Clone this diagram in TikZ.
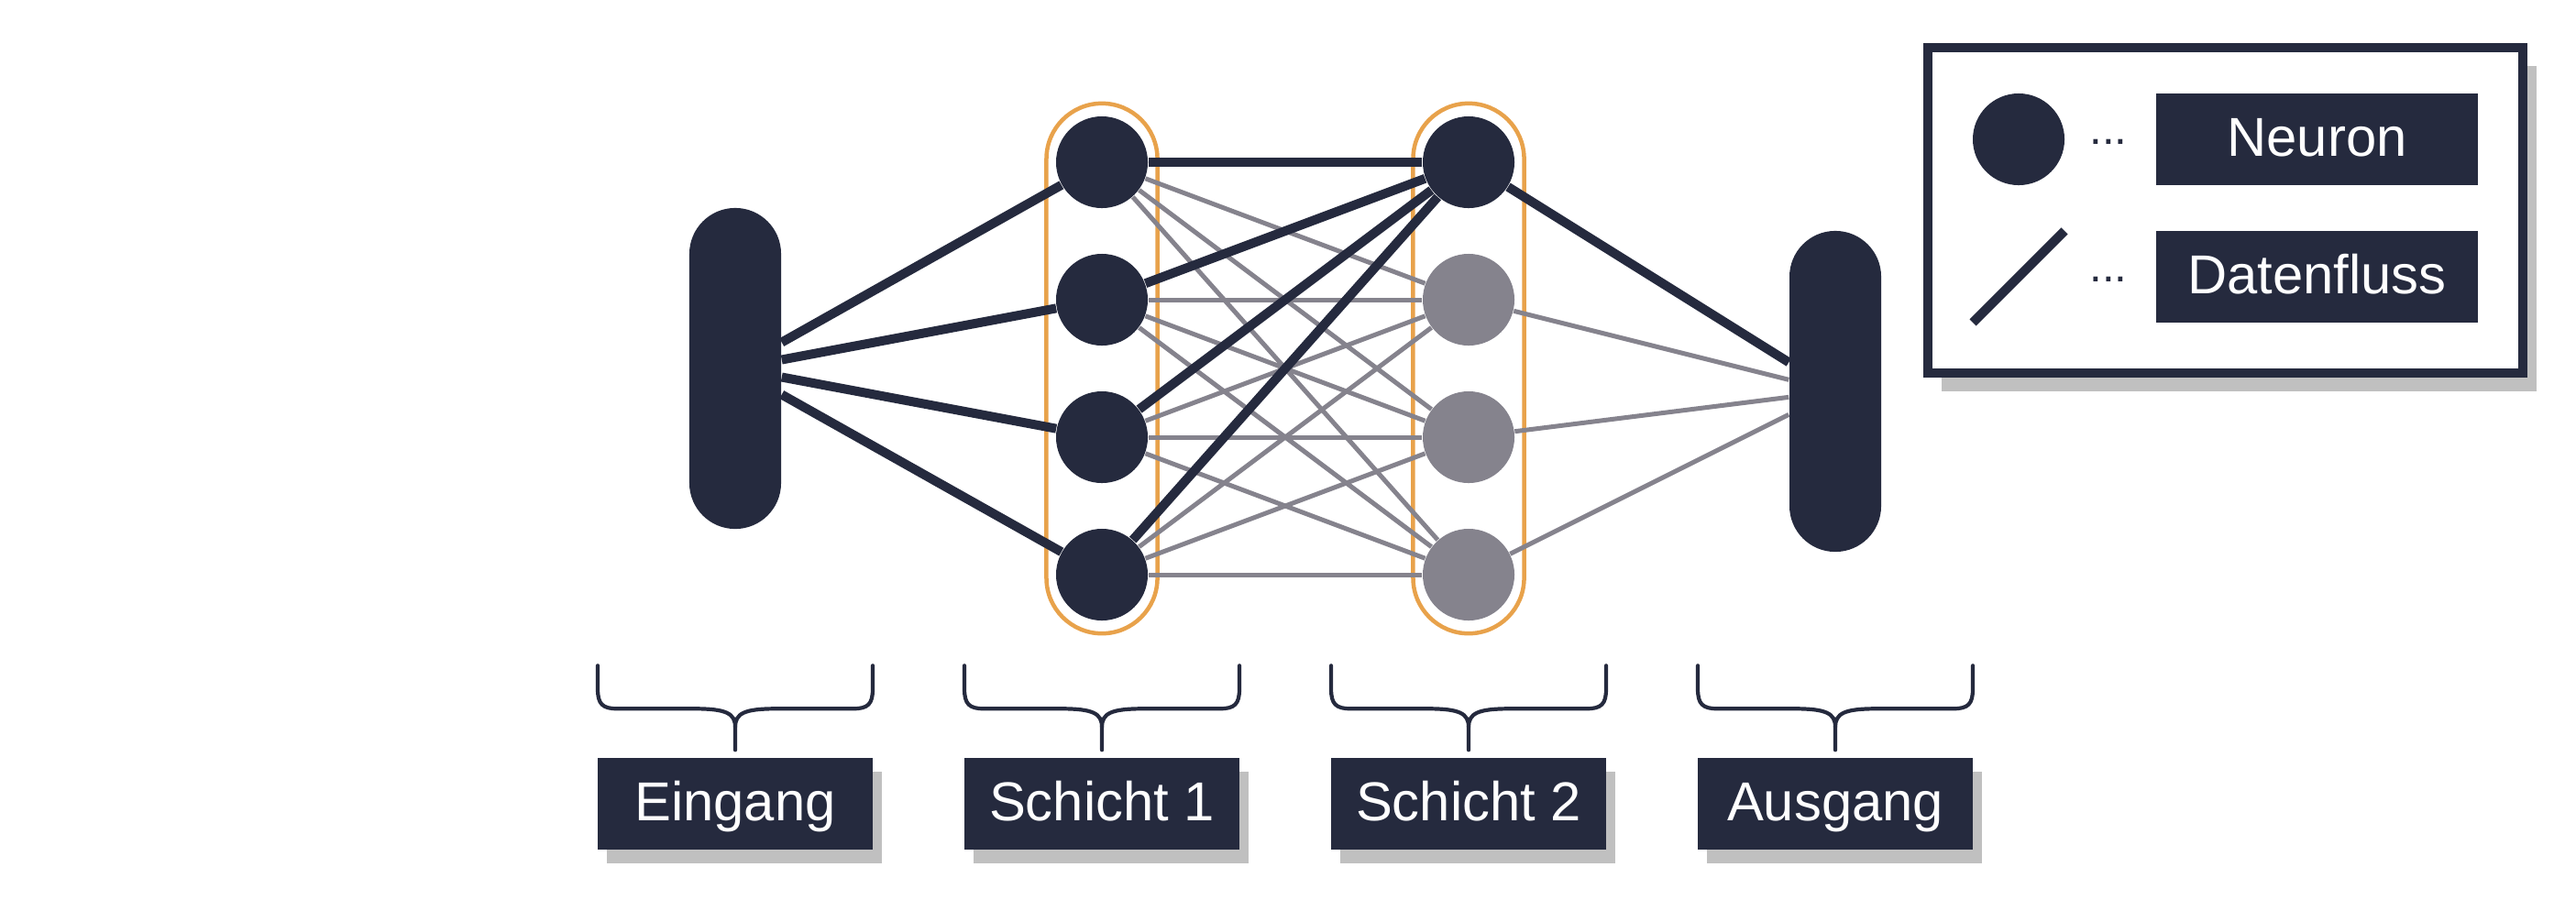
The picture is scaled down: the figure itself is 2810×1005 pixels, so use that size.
\documentclass[tikz,border=0pt]{standalone}
\usepackage{fontspec}
\setmainfont{Liberation Sans}
\usetikzlibrary{shadows,backgrounds}

\definecolor{netdark}{HTML}{252A3E}
\definecolor{netgrey}{HTML}{85838D}
\definecolor{netorange}{HTML}{E8A24B}
\definecolor{netshadow}{HTML}{C0C0C0}

\tikzset{
    neuron/.style={circle, fill=netdark, minimum size=1cm, inner sep=0pt},
    neuronoff/.style={neuron, fill=netgrey},
    pill/.style={rectangle, rounded corners=0.5cm, fill=netdark, minimum width=1cm, minimum height=3.5cm, inner sep=0pt},
    layerframe/.style={rectangle, rounded corners=0.605cm, draw=netorange, line width=0.045cm, minimum width=1.21cm, minimum height=5.78cm, inner sep=0pt},
    link/.style={draw=netdark, line width=0.1cm},
    linkoff/.style={draw=netgrey, line width=0.05cm},
    keytag/.style={rectangle, fill=netdark, text=white, minimum width=3.51cm, minimum height=1cm, inner sep=0pt,
        font=\fontsize{17pt}{20pt}\selectfont, text height=0.47cm, text depth=0.11cm},
    tag/.style={keytag, minimum width=3cm,
        drop shadow={shadow xshift=0.1cm, shadow yshift=-0.15cm, fill=netshadow, opacity=1}},
    legendbox/.style={rectangle, draw=netdark, line width=0.1cm, fill=white, minimum width=6.49cm, minimum height=3.55cm,
        drop shadow={shadow xshift=0.15cm, shadow yshift=-0.2cm, fill=netshadow, opacity=1}},
    bracket/.style={draw=netdark, line width=0.042cm, line cap=round},
    pics/layerbrace/.style={code={
        \draw[bracket] (-150,-100) -- (-150,-75) .. controls (-150,-58) and (-145,-53) .. (-128,-53)
            -- (-45,-53) .. controls (-10,-53) and (0,-48) .. (0,-33) -- (0,-8);
        \draw[bracket] (150,-100) -- (150,-75) .. controls (150,-58) and (145,-53) .. (128,-53)
            -- (45,-53) .. controls (10,-53) and (0,-48) .. (0,-33);
    }},
}

\begin{document}
\begin{tikzpicture}[x=0.01cm, y=-0.01cm]
    \useasboundingbox (0,0) rectangle (2810,1005);

    % input, layers, output
    \node[pill] (in) at (802, 402) {};
    \node[neuron] (h1a) at (1202, 177) {};
    \node[neuron] (h1b) at (1202, 327) {};
    \node[neuron] (h1c) at (1202, 477) {};
    \node[neuron] (h1d) at (1202, 627) {};
    \node[neuron] (h2a) at (1602, 177) {};
    \node[neuronoff] (h2b) at (1602, 327) {};
    \node[neuronoff] (h2c) at (1602, 477) {};
    \node[neuronoff] (h2d) at (1602, 627) {};
    \node[pill] (out) at (2002, 427) {};

    \begin{pgfonlayer}{background}
        \node[layerframe] (frame1) at (1202, 402) {};
        \node[layerframe] (frame2) at (1602, 402) {};

        \draw[linkoff] (h1a) -- (h2b);
        \draw[linkoff] (h1a) -- (h2c);
        \draw[linkoff] (h1a) -- (h2d);
        \draw[linkoff] (h1b) -- (h2b);
        \draw[linkoff] (h1b) -- (h2c);
        \draw[linkoff] (h1b) -- (h2d);
        \draw[linkoff] (h1c) -- (h2b);
        \draw[linkoff] (h1c) -- (h2c);
        \draw[linkoff] (h1c) -- (h2d);
        \draw[linkoff] (h1d) -- (h2b);
        \draw[linkoff] (h1d) -- (h2c);
        \draw[linkoff] (h1d) -- (h2d);
        \draw[linkoff] (h2b) -- (out);
        \draw[linkoff] (h2c) -- (out);
        \draw[linkoff] (h2d) -- (out);

        \draw[link] (in) -- (h1a);
        \draw[link] (in) -- (h1b);
        \draw[link] (in) -- (h1c);
        \draw[link] (in) -- (h1d);
        \draw[link] (h1a) -- (h2a);
        \draw[link] (h1b) -- (h2a);
        \draw[link] (h1c) -- (h2a);
        \draw[link] (h1d) -- (h2a);
        \draw[link] (h2a) -- (out);
    \end{pgfonlayer}

    % labels under the layers
    \node[tag] (eing) at (802, 877) {Eingang};
    \node[tag] (sch1) at (1202, 877) {Schicht 1};
    \node[tag] (sch2) at (1602, 877) {Schicht 2};
    \node[tag] (ausg) at (2002, 877) {Ausgang};
    \pic at (eing.north) {layerbrace};
    \pic at (sch1.north) {layerbrace};
    \pic at (sch2.north) {layerbrace};
    \pic at (ausg.north) {layerbrace};

    % legend
    \node[legendbox] (legend) at (2427.5, 229.5) {};
    \node[neuron] (keyneuron) at (2202, 152) {};
    \coordinate (keyfrom) at (2152, 352);
    \coordinate (keyto) at (2252, 252);
    \draw[link] (keyfrom) -- (keyto);
    \node[anchor=base, inner sep=0pt, text=netdark, font=\fontsize{14pt}{16pt}\selectfont] (dotsa) at (2300, 157) {...};
    \node[anchor=base, inner sep=0pt, text=netdark, font=\fontsize{14pt}{16pt}\selectfont] (dotsb) at (2300, 307) {...};
    \node[keytag] (keyn) at (2527.5, 152) {Neuron};
    \node[keytag] (keyd) at (2527.5, 302) {Datenfluss};
\end{tikzpicture}
\end{document}
